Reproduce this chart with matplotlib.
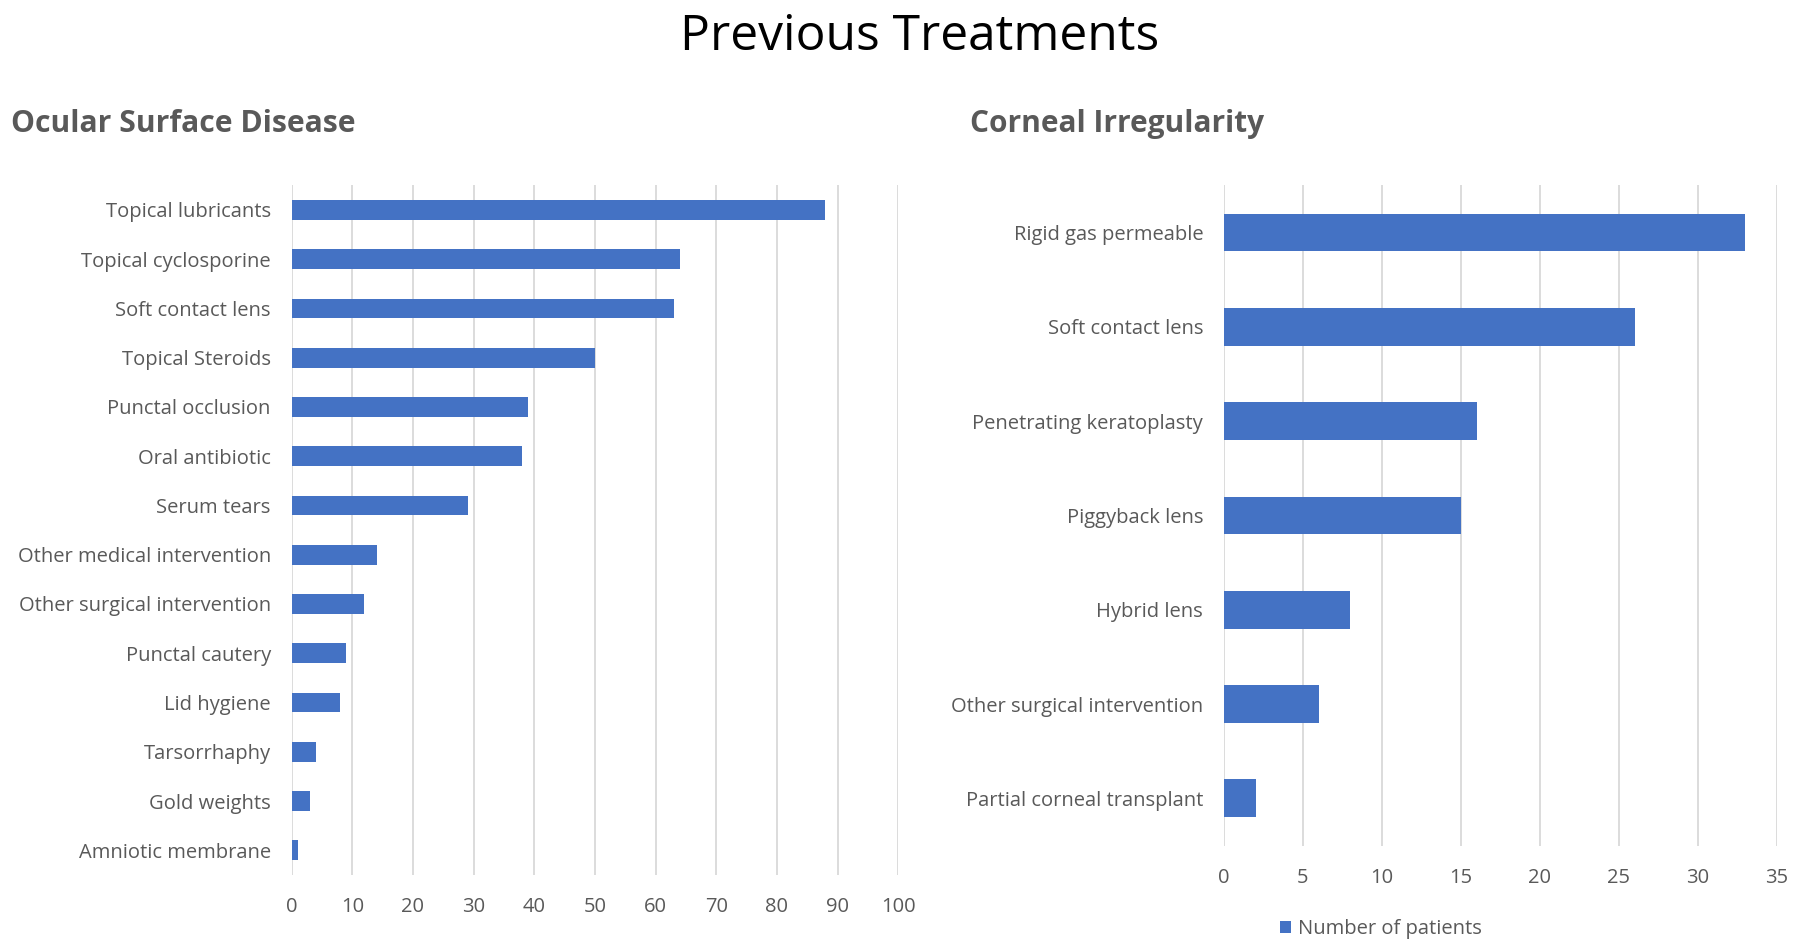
import matplotlib
matplotlib.use("Agg")
import matplotlib.pyplot as plt
from matplotlib.patches import Patch

osd_labels = ["Topical lubricants", "Topical cyclosporine", "Soft contact lens", "Topical Steroids",
              "Punctal occlusion", "Oral antibiotic", "Serum tears", "Other medical intervention",
              "Other surgical intervention", "Punctal cautery", "Lid hygiene", "Tarsorrhaphy",
              "Gold weights", "Amniotic membrane"]
osd_values = [88, 64, 63, 50, 39, 38, 29, 14, 12, 9, 8, 4, 3, 1]
osd_ticks = [0, 10, 20, 30, 40, 50, 60, 70, 80, 90, 100]

ci_labels = ["Rigid gas permeable", "Soft contact lens", "Penetrating keratoplasty", "Piggyback lens",
             "Hybrid lens", "Other surgical intervention", "Partial corneal transplant"]
ci_values = [33, 26, 16, 15, 8, 6, 2]
ci_ticks = [0, 5, 10, 15, 20, 25, 30, 35]

BLUE = "#4472C4"
GRAY = "#595959"
GRID = "#D9D9D9"
FONT = ["Open Sans", "DejaVu Sans"]
plt.rcParams['font.family'] = FONT

fig = plt.figure(figsize=(18, 9.5), dpi=100)

def style(ax, labels, values, ticks):
    y = list(range(len(labels)))
    ax.barh(y, values, height=0.4, color=BLUE, zorder=3)
    ax.set_yticks(y)
    ax.set_yticklabels(labels)
    ax.set_ylim(len(labels) - 0.5, -0.5)
    ax.set_xticks(ticks)
    ax.set_xlim(ticks[0], ticks[-1])
    ax.grid(axis='x', color=GRID, linewidth=1.3, zorder=0)
    ax.grid(axis='y', visible=False)
    for s in ax.spines.values():
        s.set_visible(False)
    ax.tick_params(axis='both', length=0, labelsize=14.5, colors=GRAY)
    ax.tick_params(axis='y', pad=15)
    ax.tick_params(axis='x', pad=16)
    ax.set_axisbelow(True)

ax1 = fig.add_axes([0.162, 0.079, 0.337, 0.726])
style(ax1, osd_labels, osd_values, osd_ticks)

ax2 = fig.add_axes([0.680, 0.110, 0.307, 0.695])
style(ax2, ci_labels, ci_values, ci_ticks)

fig.text(0.511, 0.961, "Previous Treatments", ha='center', va='center', fontsize=35.8, color='black')
fig.text(0.006, 0.870, "Ocular Surface Disease", ha='left', va='center', fontsize=21.7,
         fontweight='bold', color=GRAY)
fig.text(0.539, 0.869, "Corneal Irregularity", ha='left', va='center', fontsize=21.5,
         fontweight='bold', color=GRAY)

handle = Patch(facecolor=BLUE, edgecolor='none')
fig.legend([handle], ["Number of patients"], loc='center', bbox_to_anchor=(0.767, 0.022),
           frameon=False, fontsize=14.5, handlelength=0.55, handleheight=0.55, handletextpad=0.35,
           labelcolor=GRAY)

fig.savefig("out.png", dpi=100, facecolor='white')
